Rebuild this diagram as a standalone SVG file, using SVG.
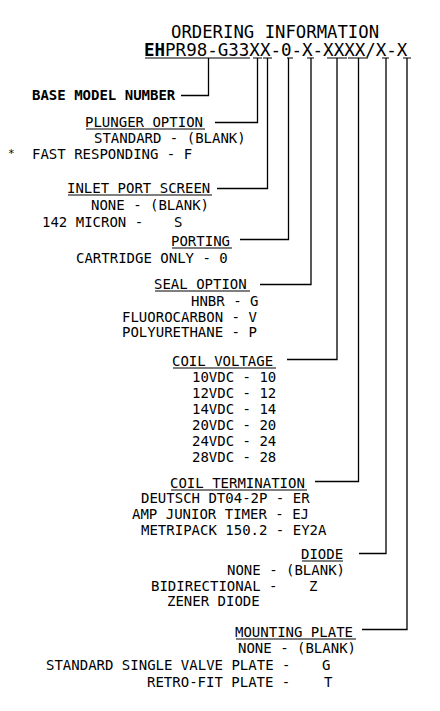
<svg xmlns="http://www.w3.org/2000/svg" width="440" height="711" viewBox="0 0 440 711">
<style>
.t{font-family:"DejaVu Sans Mono","Liberation Mono",monospace;font-size:14px;fill:#000}
.h{font-family:"DejaVu Sans Mono","Liberation Mono",monospace;font-size:17.5px;fill:#000}
.b{font-weight:bold}
.u{stroke:#000;stroke-width:1.2;fill:none}
.c{stroke:#000;stroke-width:1.3;fill:none}
</style>
<rect width="440" height="711" fill="#fff"/>
<g id="header">
<text class="h" x="171" y="38" style="font-size:17.3px">ORDERING INFORMATION</text>
<text class="h" x="144" y="55.5"><tspan class="b">EH</tspan>PR98-G33XX-0-X-XXXX/X-X</text>
<path class="u" d="M145 58H250M253 58H262M263 58H272M287 58H293M307 58H314M327 58H347M348 58H368M382 58H389M403 58H411"/>
</g>
<g id="base-model">
<text class="t b" x="32" y="100">BASE MODEL NUMBER</text>
</g>
<g id="plunger-option">
<text class="t" x="85" y="127">PLUNGER OPTION</text>
<path class="u" d="M86 129H205"/>
<text class="t" x="94" y="143">STANDARD - (BLANK)</text>
<text class="t" x="8" y="157" style="font-size:11px">*</text>
<text class="t" x="32" y="159">FAST RESPONDING - F</text>
</g>
<g id="inlet-port-screen">
<text class="t" x="67" y="193">INLET PORT SCREEN</text>
<path class="u" d="M68 195H212"/>
<text class="t" x="91" y="210">NONE - (BLANK)</text>
<text class="t" x="42" y="227">142 MICRON -</text>
<text class="t" x="174" y="227">S</text>
</g>
<g id="porting">
<text class="t" x="171" y="246">PORTING</text>
<path class="u" d="M172 248H232"/>
<text class="t" x="76" y="263">CARTRIDGE ONLY - 0</text>
</g>
<g id="seal-option">
<text class="t" x="154" y="289">SEAL OPTION</text>
<path class="u" d="M155 291H250"/>
<text class="t" x="191" y="306">HNBR - G</text>
<text class="t" x="122" y="322">FLUOROCARBON - V</text>
<text class="t" x="122" y="337">POLYURETHANE - P</text>
</g>
<g id="coil-voltage">
<text class="t" x="172" y="366">COIL VOLTAGE</text>
<path class="u" d="M173 368H276"/>
<text class="t" x="192" y="382">10VDC - 10</text>
<text class="t" x="192" y="398">12VDC - 12</text>
<text class="t" x="192" y="414">14VDC - 14</text>
<text class="t" x="192" y="430">20VDC - 20</text>
<text class="t" x="192" y="446">24VDC - 24</text>
<text class="t" x="192" y="462">28VDC - 28</text>
</g>
<g id="coil-termination">
<text class="t" x="170" y="488">COIL TERMINATION</text>
<path class="u" d="M171 490H307"/>
<text class="t" x="141" y="503">DEUTSCH DT04-2P - ER</text>
<text class="t" x="132" y="519">AMP JUNIOR TIMER - EJ</text>
<text class="t" x="141" y="535">METRIPACK 150.2 - EY2A</text>
</g>
<g id="diode">
<text class="t" x="301" y="559">DIODE</text>
<path class="u" d="M302 561H343"/>
<text class="t" x="227" y="575">NONE - (BLANK)</text>
<text class="t" x="151" y="591">BIDIRECTIONAL -</text>
<text class="t" x="309" y="591">Z</text>
<text class="t" x="167" y="606">ZENER DIODE</text>
</g>
<g id="mounting-plate">
<text class="t" x="235" y="637">MOUNTING PLATE</text>
<path class="u" d="M236 639H356"/>
<text class="t" x="238" y="653">NONE - (BLANK)</text>
<text class="t" x="46" y="670">STANDARD SINGLE VALVE PLATE -</text>
<text class="t" x="322" y="670">G</text>
<text class="t" x="147" y="687">RETRO-FIT PLATE -</text>
<text class="t" x="324" y="687">T</text>
</g>
<g id="connectors">
<path class="c" d="M208.5 58V95.5H181"/>
<path class="c" d="M257.5 58V122.5H215"/>
<path class="c" d="M267.5 58V188.5H217"/>
<path class="c" d="M288.5 58V239.5H240"/>
<path class="c" d="M311 58V284.5H260"/>
<path class="c" d="M337 58V359.5H287"/>
<path class="c" d="M358.5 58V481.5H315"/>
<path class="c" d="M386 58V553.5H359"/>
<path class="c" d="M407 58V629.5H362"/>
</g>
</svg>
